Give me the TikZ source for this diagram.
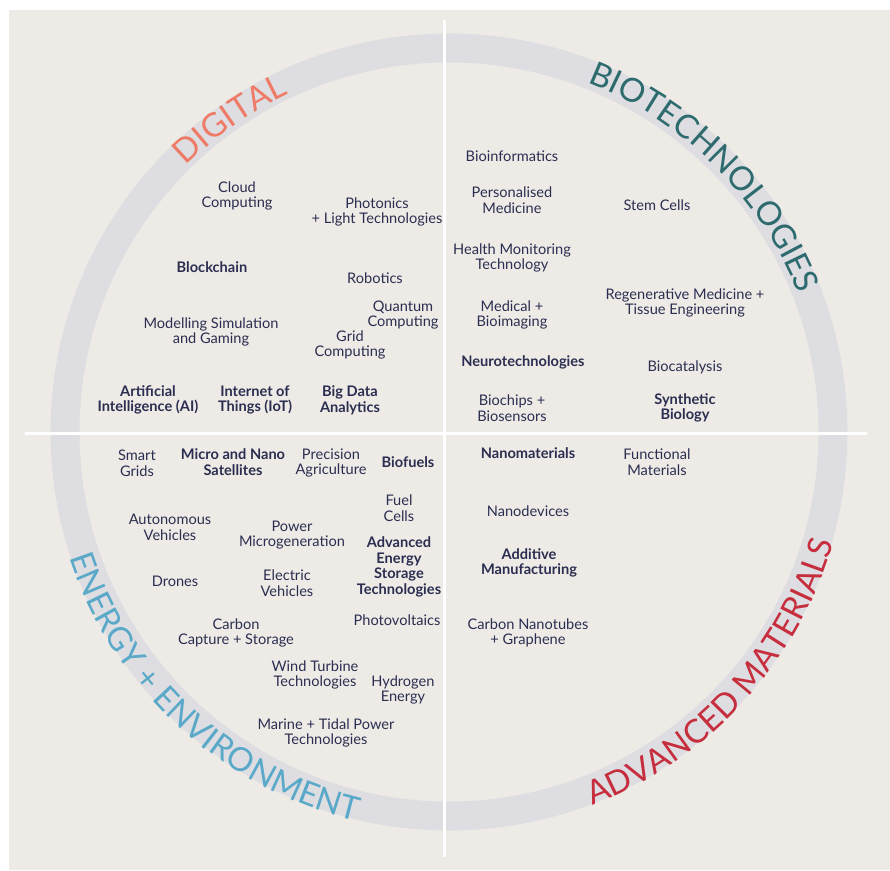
\documentclass[tikz,border=0pt]{standalone}
\usepackage{fontspec}
\setmainfont{Lato}
\usetikzlibrary{decorations.text}
\definecolor{paper}{HTML}{EEEBE7}
\definecolor{ringgray}{HTML}{DEDEE2}
\definecolor{ink}{HTML}{2B2E50}
\definecolor{digitalcol}{HTML}{EE7B66}
\definecolor{biocol}{HTML}{2E6B6E}
\definecolor{energycol}{HTML}{5BA9C9}
\definecolor{materialcol}{HTML}{C62E3E}
\newcommand{\catsize}{\fontsize{33}{33}\selectfont}

\begin{document}
\begin{tikzpicture}[x=1pt,y=1pt,
   item/.style={align=center,text=ink,inner sep=0pt,font=\fontsize{14.6}{15.7}\selectfont},
   keyitem/.style={item,font=\fontsize{14.6}{15.7}\selectfont\bfseries},
   divider/.style={white,line width=3pt}]
   \useasboundingbox (-449,-438) rectangle (441,432);
   \fill[paper] (-440,-438) rectangle (441,422);
   \draw[ringgray,line width=29pt] (0,0) circle(384);

   \path[decorate,decoration={text along path,text align=center,text color=digitalcol,
      text={|\catsize|DIGITAL}}] (165:374) arc[start angle=165,end angle=85,radius=374];
   \path[decorate,decoration={text along path,text align=center,text color=biocol,
      text={|\catsize|BIOTECHNOLOGIES}}] (100:376) arc[start angle=100,end angle=-10,radius=376];
   \path[decorate,decoration={text along path,text align=center,text color=energycol,
      text={|\catsize|ENERGY + ENVIRONMENT}}] (165:400) arc[start angle=165,end angle=290,radius=400];
   \path[decorate,decoration={text along path,text align=center,text color=materialcol,
      text={|\catsize|ADVANCED MATERIALS}}] (260:400) arc[start angle=260,end angle=375,radius=400];

   \node[item] (cloud) at (-212,236) {Cloud\\Computing};
   \node[item] (photonics) at (-72,220) {Photonics\\+ Light Technologies};
   \node[keyitem] (blockchain) at (-237,165) {Blockchain};
   \node[item] (robotics) at (-74,154) {Robotics};
   \node[item] (quantum) at (-46,117) {Quantum\\Computing};
   \node[item] (modelling) at (-238,100) {Modelling Simulation\\and Gaming};
   \node[item] (grid) at (-99,87) {Grid\\Computing};
   \node[keyitem] (ai) at (-301,32) {Artificial\\Intelligence (AI)};
   \node[keyitem] (iot) at (-194,32) {Internet of\\Things (IoT)};
   \node[keyitem] (bigdata) at (-99,32) {Big Data\\Analytics};

   \node[item] (bioinformatics) at (63,276) {Bioinformatics};
   \node[item] (personalised) at (63,232) {Personalised\\Medicine};
   \node[item] (stemcells) at (208,227) {Stem Cells};
   \node[item] (health) at (63,174) {Health Monitoring\\Technology};
   \node[item] (regenerative) at (236,129) {Regenerative Medicine +\\Tissue Engineering};
   \node[item] (medical) at (63,117) {Medical +\\Bioimaging};
   \node[keyitem] (neuro) at (74,70) {Neurotechnologies};
   \node[item] (biocatalysis) at (236,65) {Biocatalysis};
   \node[item] (biochips) at (63,24) {Biochips +\\Biosensors};
   \node[keyitem] (synthetic) at (236,24) {Synthetic\\Biology};

   \node[item] (smartgrids) at (-312,-31) {Smart\\Grids};
   \node[keyitem] (satellites) at (-216,-30) {Micro and Nano\\Satellites};
   \node[item] (precision) at (-118,-31) {Precision\\Agriculture};
   \node[keyitem] (biofuels) at (-41,-30) {Biofuels};
   \node[item] (fuelcells) at (-50,-76) {Fuel\\Cells};
   \node[item] (autonomous) at (-279,-95) {Autonomous\\Vehicles};
   \node[item] (power) at (-157,-103) {Power\\Microgeneration};
   \node[keyitem] (storage) at (-50,-135) {Advanced\\Energy\\Storage\\Technologies};
   \node[item] (drones) at (-274,-149) {Drones};
   \node[item] (electric) at (-162,-151) {Electric\\Vehicles};
   \node[item] (photovoltaics) at (-52,-188) {Photovoltaics};
   \node[item] (carbon) at (-213,-201) {Carbon\\Capture + Storage};
   \node[item] (wind) at (-134,-243) {Wind Turbine\\Technologies};
   \node[item] (hydrogen) at (-46,-258) {Hydrogen\\Energy};
   \node[item] (marine) at (-123,-301) {Marine + Tidal Power\\Technologies};

   \node[keyitem] (nanomaterials) at (79,-21) {Nanomaterials};
   \node[item] (functional) at (208,-30) {Functional\\Materials};
   \node[item] (nanodevices) at (79,-79) {Nanodevices};
   \node[keyitem] (additive) at (80,-131) {Additive\\Manufacturing};
   \node[item] (nanotubes) at (79,-201) {Carbon Nanotubes\\+ Graphene};

   \coordinate (top) at (-4.5,412);
   \coordinate (bottom) at (-4.5,-425);
   \coordinate (left) at (-424,-1);
   \coordinate (right) at (418,-1);
   \draw[divider] (top) -- (bottom);
   \draw[divider] (left) -- (right);
\end{tikzpicture}
\end{document}
